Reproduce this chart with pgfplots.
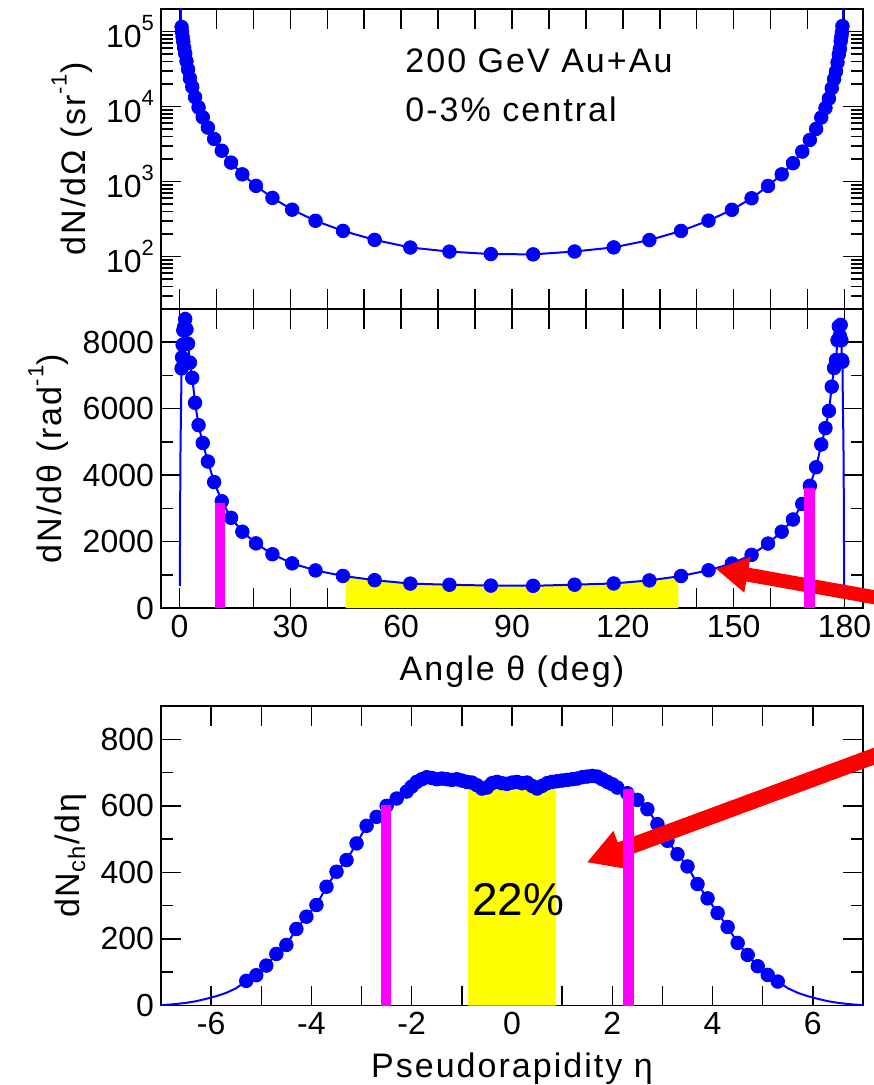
\documentclass[border=0pt]{standalone}
\usepackage{fontspec}
\setmainfont{Liberation Sans}
\newfontfamily\lblfont{Liberation Sans}[LetterSpace=6]
\usepackage{pgfplots}
\pgfplotsset{compat=1.18}
\usetikzlibrary{arrows.meta}

\definecolor{ptblue}{RGB}{0,0,255}
\definecolor{ptpink}{RGB}{255,0,255}
\definecolor{ptyellow}{RGB}{255,255,0}
\definecolor{ptred}{RGB}{255,0,0}

% raised superscript, as in the original figure
\newcommand{\sups}[1]{\raisebox{0.55em}{\fontsize{11}{11}\selectfont #1}}

\pgfplotsset{
  panel/.style={
    scale only axis, width=351pt,
    axis line style={line width=0.9pt},
    tick style={line width=0.75pt, black},
    tick align=inside,
    major tick length=10pt, minor tick length=6pt,
    tick label style={font=\fontsize{16}{19}\selectfont},
    label style={font=\lblfont\fontsize{17}{20}\selectfont},
    xlabel style={yshift=-2pt},
    /pgf/number format/assume math mode=true,
    /pgf/number format/1000 sep={},
    scaled ticks=false,
    clip mode=individual,
  },
  dots/.style={only marks, mark=*, mark size=3.4pt, color=ptblue},
  curve/.style={ptblue, line width=1pt},
  bar/.style={ptpink, line width=5.2pt},
}
\tikzset{arr/.style={ptred, line width=7pt, -{Triangle[length=16pt,width=17pt]}}}

\begin{document}
\begin{tikzpicture}
\useasboundingbox (0,0) rectangle (436.5pt,-542.5pt);

% ---- top: dN/dOmega, log scale
\begin{axis}[panel, at={(80.5pt,-154.5pt)}, anchor=south west, height=150pt,
  xmin=-5, xmax=185, ymode=log, ymin=20, ymax=2e5,
  xtick={0,10,...,180}, xticklabels={},
  ytick={100,1000,10000,100000},
  yticklabels={10\sups{2},10\sups{3},10\sups{4},10\sups{5}},
  minor ytick={20,30,40,50,60,70,80,90,200,300,400,500,600,700,800,900,
    2000,3000,4000,5000,6000,7000,8000,9000,20000,30000,40000,50000,60000,70000,80000,90000},
  ylabel={dN/dΩ (sr\sups{-1})},
]
\addplot[curve] coordinates {
(0.25,300000) (0.40,150000)
(0.572,114977) (0.699,98484) (0.853,84684) (1.042,73124) (1.273,60631) (1.555,51022)
(1.899,40292) (2.319,31294) (2.832,23788) (3.459,18271) (4.225,13345) (5.159,9744)
(6.298,7205) (7.690,5244) (9.385,3699) (11.45,2577) (13.96,1791) (17.01,1249)
(20.71,876) (25.16,606) (30.49,422) (36.82,300) (44.25,220) (52.82,167) (62.48,132)
(73.06,116.5) (84.28,108) (95.72,107) (106.94,116.8) (117.52,132.6) (127.18,166)
(135.75,219.6) (143.18,301.4) (149.51,420.3) (154.84,599) (159.29,873.3) (162.99,1249)
(166.04,1758) (168.55,2512) (170.615,3591) (172.31,5040) (173.70,7140) (174.84,9587)
(175.775,12816) (176.54,17572) (177.17,23266) (177.68,29352) (178.10,38702)
(178.445,49726) (178.727,58696) (178.958,74567) (179.147,86116) (179.301,97414)
(179.428,118182)
(179.60,150000) (179.75,300000)};
\addplot[dots] coordinates {
(0.572,114977) (0.699,98484) (0.853,84684) (1.042,73124) (1.273,60631) (1.555,51022)
(1.899,40292) (2.319,31294) (2.832,23788) (3.459,18271) (4.225,13345) (5.159,9744)
(6.298,7205) (7.690,5244) (9.385,3699) (11.45,2577) (13.96,1791) (17.01,1249)
(20.71,876) (25.16,606) (30.49,422) (36.82,300) (44.25,220) (52.82,167) (62.48,132)
(73.06,116.5) (84.28,108) (95.72,107) (106.94,116.8) (117.52,132.6) (127.18,166)
(135.75,219.6) (143.18,301.4) (149.51,420.3) (154.84,599) (159.29,873.3) (162.99,1249)
(166.04,1758) (168.55,2512) (170.615,3591) (172.31,5040) (173.70,7140) (174.84,9587)
(175.775,12816) (176.54,17572) (177.17,23266) (177.68,29352) (178.10,38702)
(178.445,49726) (178.727,58696) (178.958,74567) (179.147,86116) (179.301,97414)
(179.428,118182)};
\end{axis}

% ---- middle: dN/dtheta
\begin{axis}[panel, at={(80.5pt,-304pt)}, anchor=south west, height=149.5pt,
  xmin=-5, xmax=185, ymin=0, ymax=9000,
  xtick={0,10,...,180}, xticklabels={0,,,30,,,60,,,90,,,120,,,150,,,180},
  ytick={0,2000,4000,6000,8000}, minor ytick={1000,3000,5000,7000},
  xlabel={Angle θ (deg)}, ylabel={dN/dθ (rad\sups{-1})},
]
\addplot[fill=ptyellow, draw=none] coordinates {
(45,955) (52.82,838) (62.48,735) (73.06,700) (84.28,675) (95.72,669) (106.94,702)
(117.52,739) (127.18,831) (135,951)} \closedcycle;
\addplot[curve] coordinates {
(0.1045,658) (0.1155,992) (0.1411,1828) (0.1723,2661) (0.2104,3540) (0.2570,4459)
(0.3139,5111) (0.3834,5678) (0.4683,6362)
(0.572,7212) (0.699,7545) (0.853,7924) (1.042,8357) (1.273,8463) (1.555,8698)
(1.899,8389) (2.319,7957) (2.832,7386) (3.459,6927) (4.225,6177) (5.159,5505)
(6.298,4967) (7.690,4409) (9.385,3790) (11.45,3214) (13.96,2715) (17.01,2297)
(20.71,1946) (25.16,1618) (30.49,1344) (36.82,1131) (44.25,966) (52.82,838)
(62.48,735) (73.06,700) (84.28,675) (95.72,669) (106.94,702) (117.52,739)
(127.18,831) (135.75,963) (143.18,1135) (149.51,1340) (154.84,1600) (159.29,1940)
(162.99,2297) (166.04,2665) (168.55,3133) (170.615,3679) (172.31,4237) (173.70,4922)
(174.84,5416) (175.775,5932) (176.54,6662) (177.17,7224) (177.68,7463) (178.10,8058)
(178.445,8477) (178.727,8193) (178.958,8522) (179.147,8058) (179.301,7463) (179.428,7413)
(179.5317,6362) (179.6166,5678) (179.6861,5111) (179.743,4459) (179.7896,3540)
(179.8277,2661) (179.8589,1828) (179.8845,992) (179.8955,658)};
\addplot[dots] coordinates {
(0.572,7212) (0.699,7545) (0.853,7924) (1.042,8357) (1.273,8463) (1.555,8698)
(1.899,8389) (2.319,7957) (2.832,7386) (3.459,6927) (4.225,6177) (5.159,5505)
(6.298,4967) (7.690,4409) (9.385,3790) (11.45,3214) (13.96,2715) (17.01,2297)
(20.71,1946) (25.16,1618) (30.49,1344) (36.82,1131) (44.25,966) (52.82,838)
(62.48,735) (73.06,700) (84.28,675) (95.72,669) (106.94,702) (117.52,739)
(127.18,831) (135.75,963) (143.18,1135) (149.51,1340) (154.84,1600) (159.29,1940)
(162.99,2297) (166.04,2665) (168.55,3133) (170.615,3679) (172.31,4237) (173.70,4922)
(174.84,5416) (175.775,5932) (176.54,6662) (177.17,7224) (177.68,7463) (178.10,8058)
(178.445,8477) (178.727,8193) (178.958,8522) (179.147,8058) (179.301,7463) (179.428,7413)};
\draw[arr] (axis cs:192.3,241) -- (axis cs:145.2,1174);
\addplot[bar] coordinates {(10.89,0) (10.89,3170)};
\addplot[bar] coordinates {(170.57,0) (170.57,3603)};
\end{axis}

% ---- bottom: dN/deta
\begin{axis}[panel, at={(80.5pt,-502.75pt)}, anchor=south west, height=149.75pt,
  xmin=-7, xmax=7, ymin=0, ymax=900,
  xtick={-6,-5,...,6}, xticklabels={-6,,-4,,-2,,0,,2,,4,,6},
  ytick={0,200,400,600,800}, minor ytick={100,300,500,700},
  xlabel={Pseudorapidity η}, ylabel={dN\textsubscript{ch}/dη},
]
\addplot[fill=ptyellow, draw=none] coordinates {
(-0.881,672) (-0.8,670) (-0.7,662) (-0.6,652) (-0.5,655) (-0.4,668) (-0.3,672)
(-0.2,668) (-0.1,666) (0.0,670) (0.1,672) (0.2,668) (0.3,670) (0.4,660) (0.5,652)
(0.6,660) (0.7,668) (0.8,672) (0.881,674)} \closedcycle;
\addplot[curve] coordinates {
(-7.0,1.2) (-6.9,2) (-6.7,4.5) (-6.5,8) (-6.3,13) (-6.1,20) (-5.9,28) (-5.7,38) (-5.5,52)
(-5.3,74) (-5.1,91) (-4.9,120) (-4.7,155) (-4.5,182) (-4.3,230) (-4.1,267) (-3.9,302)
(-3.7,357) (-3.5,402) (-3.3,437) (-3.1,487) (-2.9,540) (-2.7,567) (-2.5,600) (-2.3,622)
(-2.1,643) (-2.0,658) (-1.9,672) (-1.8,680) (-1.7,686) (-1.6,684) (-1.5,680) (-1.4,682)
(-1.3,680) (-1.2,678) (-1.1,680) (-1.0,676) (-0.9,672) (-0.8,670) (-0.7,662) (-0.6,652)
(-0.5,655) (-0.4,668) (-0.3,672) (-0.2,668) (-0.1,666) (0.0,670) (0.1,672) (0.2,668)
(0.3,670) (0.4,660) (0.5,652) (0.6,660) (0.7,668) (0.8,672) (0.9,674) (1.0,676)
(1.1,678) (1.2,680) (1.3,682) (1.4,686) (1.5,688) (1.6,690) (1.7,688) (1.8,680)
(1.9,672) (2.0,665) (2.1,655) (2.3,638) (2.5,618) (2.7,590) (2.9,545) (3.1,495)
(3.3,455) (3.5,418) (3.7,365) (3.9,322) (4.1,278) (4.3,236) (4.5,188) (4.7,152)
(4.9,118) (5.1,92) (5.3,72)
(5.5,52) (5.7,38) (5.9,28) (6.1,20) (6.3,13) (6.5,8) (6.7,4.5) (6.9,2) (7.0,1.2)};
\addplot[dots] coordinates {
(-5.3,74) (-5.1,91) (-4.9,120) (-4.7,155) (-4.5,182) (-4.3,230) (-4.1,267) (-3.9,302)
(-3.7,357) (-3.5,402) (-3.3,437) (-3.1,487) (-2.9,540) (-2.7,567) (-2.5,600) (-2.3,622)
(-2.1,643) (-2.0,658) (-1.9,672) (-1.8,680) (-1.7,686) (-1.6,684) (-1.5,680) (-1.4,682)
(-1.3,680) (-1.2,678) (-1.1,680) (-1.0,676) (-0.9,672) (-0.8,670) (-0.7,662) (-0.6,652)
(-0.5,655) (-0.4,668) (-0.3,672) (-0.2,668) (-0.1,666) (0.0,670) (0.1,672) (0.2,668)
(0.3,670) (0.4,660) (0.5,652) (0.6,660) (0.7,668) (0.8,672) (0.9,674) (1.0,676)
(1.1,678) (1.2,680) (1.3,682) (1.4,686) (1.5,688) (1.6,690) (1.7,688) (1.8,680)
(1.9,672) (2.0,665) (2.1,655) (2.3,638) (2.5,618) (2.7,590) (2.9,545) (3.1,495)
(3.3,455) (3.5,418) (3.7,365) (3.9,322) (4.1,278) (4.3,236) (4.5,188) (4.7,152)
(4.9,118) (5.1,92) (5.3,72)};
\draw[arr, line width=8pt, -{Triangle[length=18pt,width=19pt]}] (axis cs:7.54,767) -- (axis cs:1.49,430);
\addplot[bar] coordinates {(-2.51,0) (-2.51,602)};
\addplot[bar] coordinates {(2.32,0) (2.32,650)};
\node[anchor=base west, inner sep=0pt, font=\fontsize{23}{27}\selectfont] at (axis cs:-0.80,272) {22\%};
\end{axis}

\node[anchor=base west, inner sep=0pt, font=\lblfont\fontsize{17}{20}\selectfont] at (202.5pt,-36.35pt) {200 GeV Au+Au};
\node[anchor=base west, inner sep=0pt, font=\lblfont\fontsize{17}{20}\selectfont] at (202.5pt,-60.85pt) {0-3\% central};
\end{tikzpicture}
\end{document}
